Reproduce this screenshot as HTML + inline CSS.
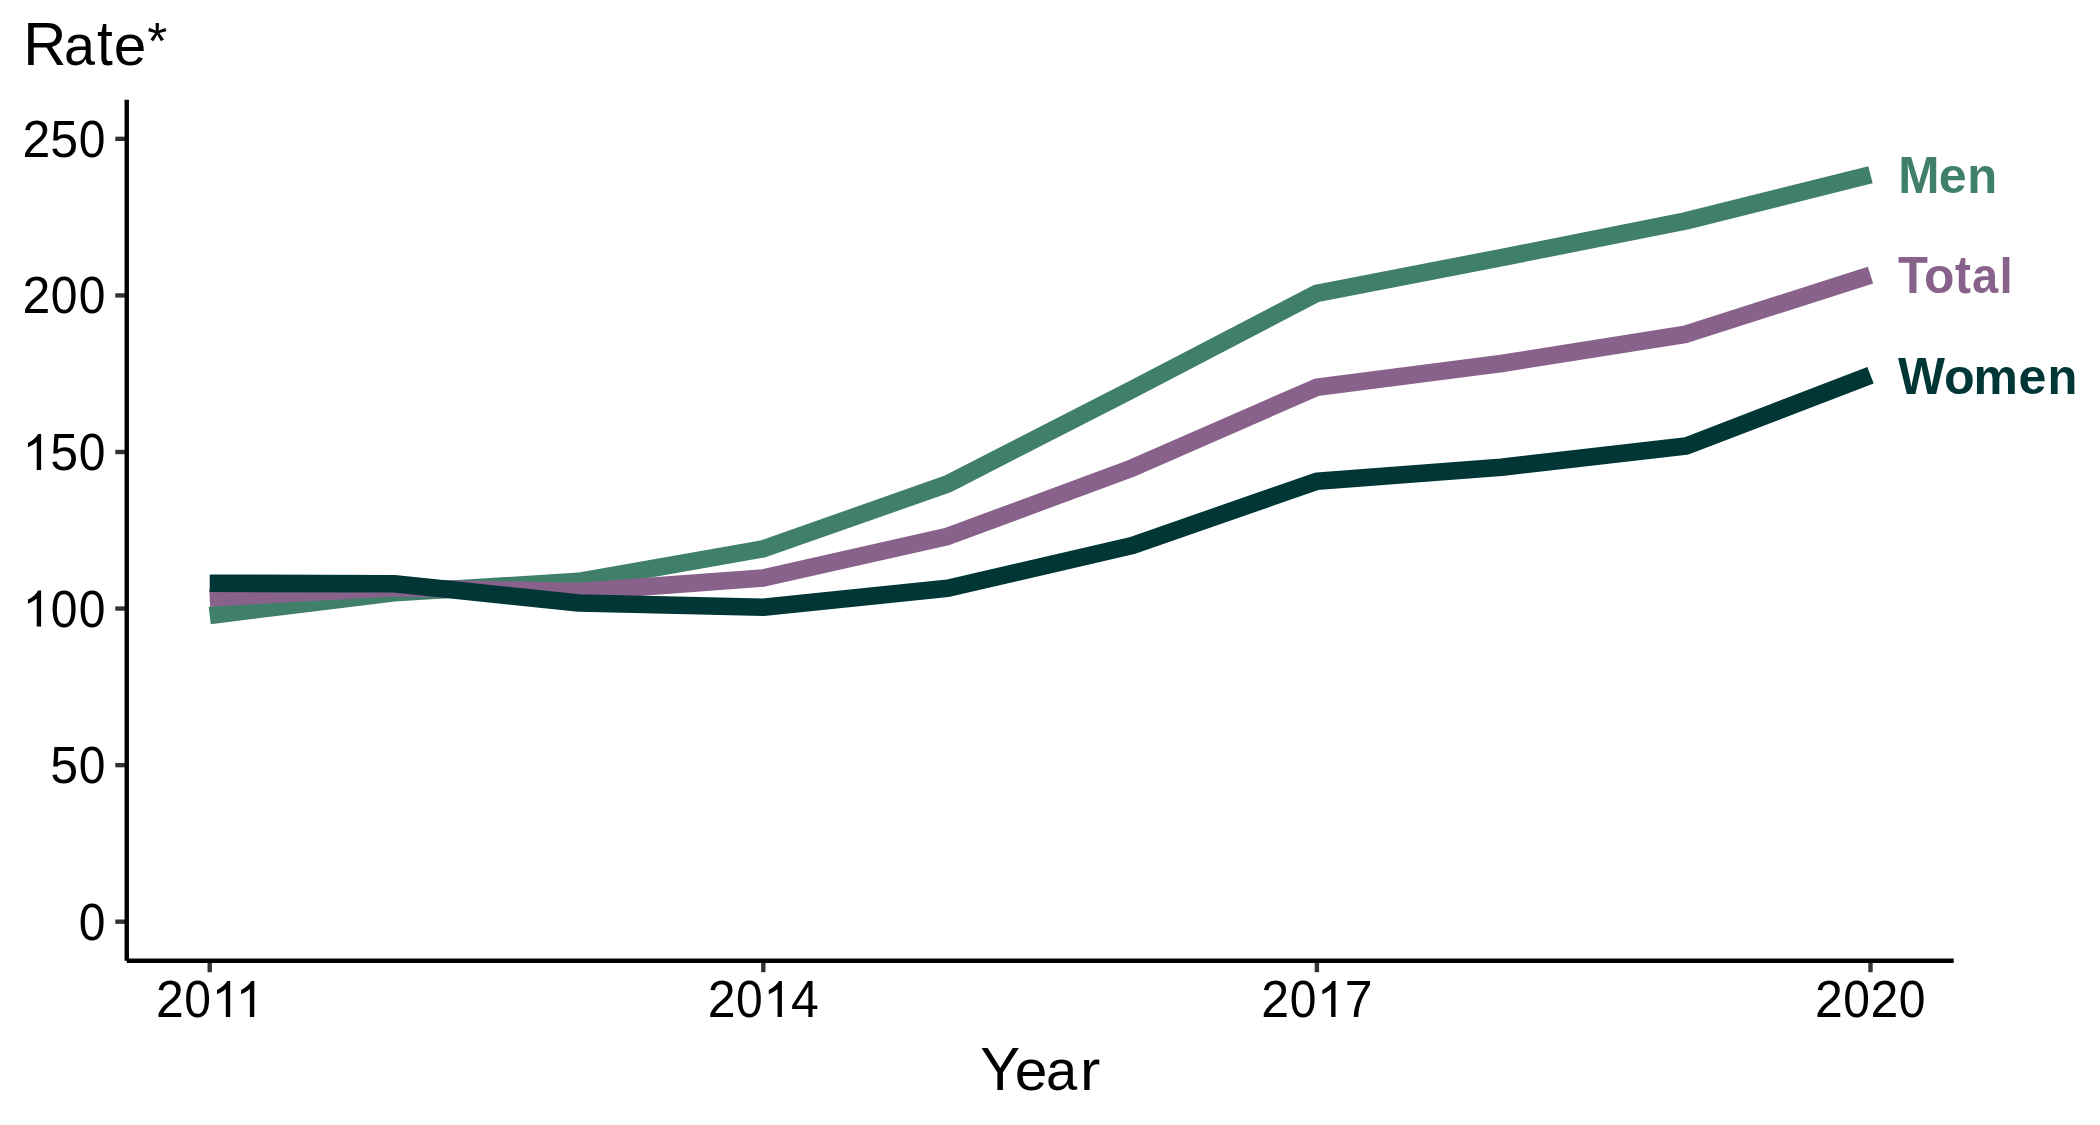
<!DOCTYPE html><html><head><meta charset="utf-8"><style>html,body{margin:0;padding:0;background:#fff;}svg{display:block;}text{font-family:"Liberation Sans",sans-serif;}</style></head><body>
<svg width="2100" height="1125" viewBox="0 0 2100 1125">
<rect width="2100" height="1125" fill="#fff"/>
<line x1="115.29" x2="126.75" y1="921.70" y2="921.70" stroke="#333" stroke-width="4.4"/>
<line x1="115.29" x2="126.75" y1="765.13" y2="765.13" stroke="#333" stroke-width="4.4"/>
<line x1="115.29" x2="126.75" y1="608.56" y2="608.56" stroke="#333" stroke-width="4.4"/>
<line x1="115.29" x2="126.75" y1="451.99" y2="451.99" stroke="#333" stroke-width="4.4"/>
<line x1="115.29" x2="126.75" y1="295.42" y2="295.42" stroke="#333" stroke-width="4.4"/>
<line x1="115.29" x2="126.75" y1="138.85" y2="138.85" stroke="#333" stroke-width="4.4"/>
<line x1="209.70" x2="209.70" y1="960.75" y2="972.21" stroke="#333" stroke-width="4.4"/>
<line x1="763.30" x2="763.30" y1="960.75" y2="972.21" stroke="#333" stroke-width="4.4"/>
<line x1="1316.90" x2="1316.90" y1="960.75" y2="972.21" stroke="#333" stroke-width="4.4"/>
<line x1="1870.50" x2="1870.50" y1="960.75" y2="972.21" stroke="#333" stroke-width="4.4"/>
<line x1="126.75" x2="126.75" y1="99.8" y2="960.75" stroke="#000" stroke-width="4.4"/>
<line x1="126.75" x2="1953.7" y1="960.75" y2="960.75" stroke="#000" stroke-width="4.4"/>
<g fill="#000" font-size="50">
<g transform="translate(78.09,939.65) scale(1,1.035)"><text transform="translate(13.90,0) scale(0.96,1)" x="-13.90" y="0">0</text></g>
<g transform="translate(50.28,783.08) scale(1,1.035)"><text x="0.00" y="0">5</text><text transform="translate(41.71,0) scale(0.96,1)" x="-13.90" y="0">0</text></g>
<g transform="translate(22.48,626.51) scale(1,1.035)"><path transform="translate(0.00,0) scale(0.024414,-0.023588)" d="M763,0H583V1147Q518,1085 412,1023Q305,961 223,930V1104Q371,1174 482,1274Q593,1374 639,1472H763Z"/><text transform="translate(41.71,0) scale(0.96,1)" x="-13.90" y="0">0</text><text transform="translate(69.52,0) scale(0.96,1)" x="-13.90" y="0">0</text></g>
<g transform="translate(22.48,469.94) scale(1,1.035)"><path transform="translate(0.00,0) scale(0.024414,-0.023588)" d="M763,0H583V1147Q518,1085 412,1023Q305,961 223,930V1104Q371,1174 482,1274Q593,1374 639,1472H763Z"/><text x="27.81" y="0">5</text><text transform="translate(69.52,0) scale(0.96,1)" x="-13.90" y="0">0</text></g>
<g transform="translate(22.48,313.37) scale(1,1.035)"><text x="0.00" y="0">2</text><text transform="translate(41.71,0) scale(0.96,1)" x="-13.90" y="0">0</text><text transform="translate(69.52,0) scale(0.96,1)" x="-13.90" y="0">0</text></g>
<g transform="translate(22.48,156.80) scale(1,1.035)"><text x="0.00" y="0">2</text><text x="27.81" y="0">5</text><text transform="translate(69.52,0) scale(0.96,1)" x="-13.90" y="0">0</text></g>
<g transform="translate(155.94,1016.90) scale(1,1.035)"><text x="0.00" y="0">2</text><text transform="translate(41.71,0) scale(0.96,1)" x="-13.90" y="0">0</text><path transform="translate(55.62,0) scale(0.024414,-0.023588)" d="M763,0H583V1147Q518,1085 412,1023Q305,961 223,930V1104Q371,1174 482,1274Q593,1374 639,1472H763Z"/><path transform="translate(79.71,0) scale(0.024414,-0.023588)" d="M763,0H583V1147Q518,1085 412,1023Q305,961 223,930V1104Q371,1174 482,1274Q593,1374 639,1472H763Z"/></g>
<g transform="translate(707.68,1016.90) scale(1,1.035)"><text x="0.00" y="0">2</text><text transform="translate(41.71,0) scale(0.96,1)" x="-13.90" y="0">0</text><path transform="translate(55.62,0) scale(0.024414,-0.023588)" d="M763,0H583V1147Q518,1085 412,1023Q305,961 223,930V1104Q371,1174 482,1274Q593,1374 639,1472H763Z"/><text x="83.42" y="0">4</text></g>
<g transform="translate(1261.28,1016.90) scale(1,1.035)"><text x="0.00" y="0">2</text><text transform="translate(41.71,0) scale(0.96,1)" x="-13.90" y="0">0</text><path transform="translate(55.62,0) scale(0.024414,-0.023588)" d="M763,0H583V1147Q518,1085 412,1023Q305,961 223,930V1104Q371,1174 482,1274Q593,1374 639,1472H763Z"/><text x="83.42" y="0">7</text></g>
<g transform="translate(1814.88,1016.90) scale(1,1.035)"><text x="0.00" y="0">2</text><text transform="translate(41.71,0) scale(0.96,1)" x="-13.90" y="0">0</text><text x="55.62" y="0">2</text><text transform="translate(97.33,0) scale(0.96,1)" x="-13.90" y="0">0</text></g>
</g>
<polyline points="209.70,615.40 394.23,592.80 578.77,581.40 763.30,548.80 947.83,483.90 1132.37,389.30 1316.90,293.30 1501.43,257.60 1685.97,220.90 1870.50,174.80" fill="none" stroke="#40806a" stroke-width="17.6" stroke-linecap="butt" stroke-linejoin="round"/>
<polyline points="209.70,597.90 394.23,587.80 578.77,591.60 763.30,578.00 947.83,536.30 1132.37,467.90 1316.90,387.20 1501.43,363.50 1685.97,334.20 1870.50,275.10" fill="none" stroke="#88628a" stroke-width="17.6" stroke-linecap="butt" stroke-linejoin="round"/>
<polyline points="209.70,583.30 394.23,583.70 578.77,603.00 763.30,607.30 947.83,588.20 1132.37,545.50 1316.90,481.20 1501.43,467.20 1685.97,446.10 1870.50,375.20" fill="none" stroke="#003636" stroke-width="17.6" stroke-linecap="butt" stroke-linejoin="round"/>
<text transform="translate(1898.22,192.74) scale(0.9905,1.0390)" font-size="50" font-weight="bold" fill="#40806a">M</text><text transform="translate(1938.65,192.74) scale(1.0046,0.9828)" font-size="50" font-weight="bold" fill="#40806a">e</text><text transform="translate(1967.35,192.74) scale(0.9802,0.9828)" font-size="50" font-weight="bold" fill="#40806a">n</text>
<text transform="translate(1898.11,292.84) scale(0.9782,1.0390)" font-size="50" font-weight="bold" fill="#88628a">T</text><text transform="translate(1924.09,292.84) scale(0.9972,0.9828)" font-size="50" font-weight="bold" fill="#88628a">o</text><text transform="translate(1955.05,292.84) scale(0.9606,1.0700)" font-size="50" font-weight="bold" fill="#88628a">t</text><text transform="translate(1972.00,292.84) scale(0.9407,0.9828)" font-size="50" font-weight="bold" fill="#88628a">a</text><text transform="translate(1999.48,292.84) scale(0.9503,0.9879)" font-size="50" font-weight="bold" fill="#88628a">l</text>
<text transform="translate(1898.07,394.00) scale(0.9952,1.0390)" font-size="50" font-weight="bold" fill="#003636">W</text><text transform="translate(1944.09,394.00) scale(1.0053,0.9828)" font-size="50" font-weight="bold" fill="#003636">o</text><text transform="translate(1973.49,394.00) scale(0.9985,0.9828)" font-size="50" font-weight="bold" fill="#003636">m</text><text transform="translate(2018.56,394.00) scale(1.0044,0.9828)" font-size="50" font-weight="bold" fill="#003636">e</text><text transform="translate(2047.42,394.00) scale(0.9783,0.9828)" font-size="50" font-weight="bold" fill="#003636">n</text>
<text transform="translate(23.23,64.60) scale(1.0308,1.0405)" font-size="58" fill="#000">R</text><text transform="translate(64.04,64.60) scale(0.9593,0.9837)" font-size="58" fill="#000">a</text><text transform="translate(97.06,64.60) scale(0.9814,1.0700)" font-size="58" fill="#000">t</text><text transform="translate(113.80,64.60) scale(1.0099,0.9837)" font-size="58" fill="#000">e</text>
<text transform="translate(147.13,59.1) scale(0.884)" font-size="58" fill="#000">*</text>
<text transform="translate(980.19,1089.70) scale(1.0304,1.0405)" font-size="58" fill="#000">Y</text><text transform="translate(1014.63,1089.70) scale(1.0117,0.9837)" font-size="58" fill="#000">e</text><text transform="translate(1045.90,1089.70) scale(0.9668,0.9837)" font-size="58" fill="#000">a</text><text transform="translate(1080.12,1089.70) scale(1.0511,0.9837)" font-size="58" fill="#000">r</text>
</svg></body></html>
